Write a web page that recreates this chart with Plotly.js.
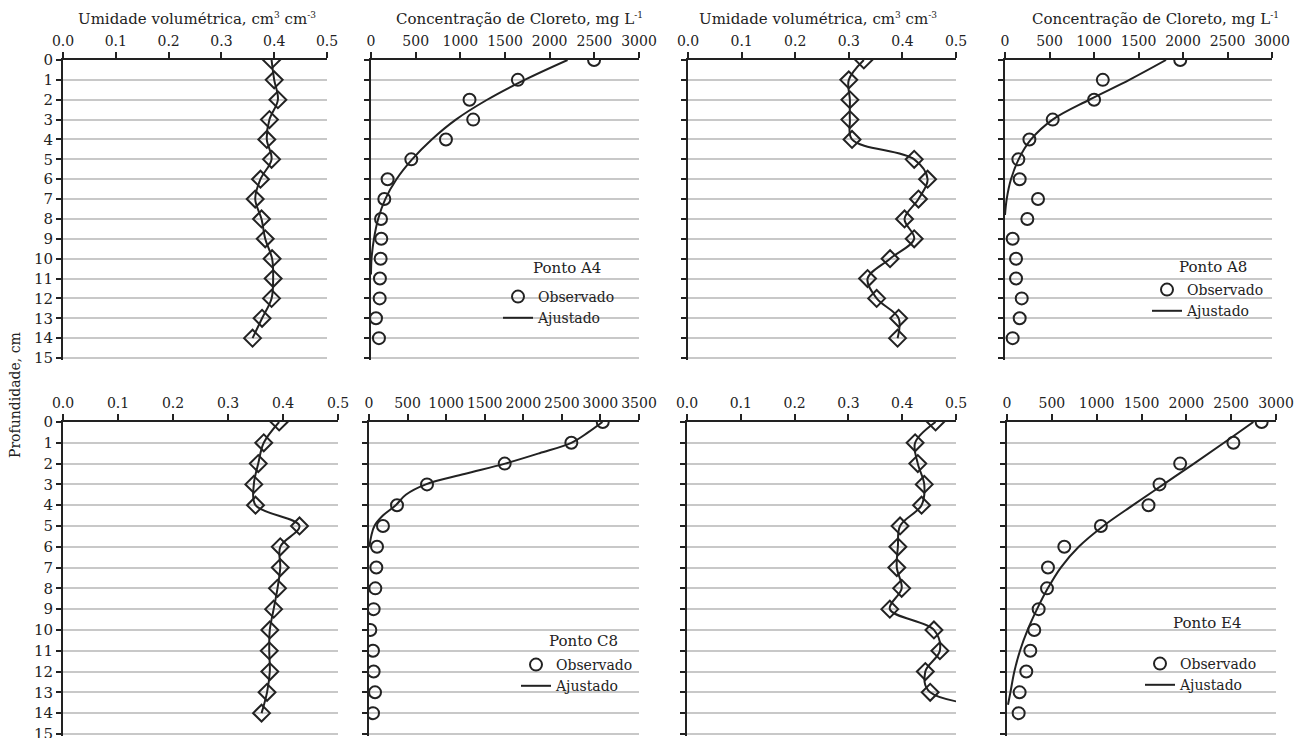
<!DOCTYPE html>
<html>
<head>
<meta charset="utf-8">
<script src="https://cdn.plot.ly/plotly-3.0.1.min.js"></script>
<style>html,body{margin:0;padding:0;background:#fff}#chart{width:1295px;height:738px}</style>
</head>
<body>
<div id="chart"></div>
<script>
// ---------- DATA ----------
const depth = [0,1,2,3,4,5,6,7,8,9,10,11,12,13,14];
const depthTicks = [0,1,2,3,4,5,6,7,8,9,10,11,12,13,14,15];

// Umidade volumétrica (cm3 cm-3)
const umidA4 = [0.395,0.400,0.407,0.391,0.386,0.395,0.374,0.364,0.376,0.383,0.396,0.398,0.395,0.377,0.359];
const umidA8 = [0.328,0.300,0.302,0.302,0.306,0.422,0.447,0.430,0.404,0.422,0.377,0.335,0.352,0.393,0.391];
const umidC8 = [0.393,0.365,0.355,0.347,0.350,0.430,0.395,0.395,0.390,0.383,0.376,0.375,0.376,0.371,0.361];
const umidE4 = [0.462,0.424,0.429,0.441,0.436,0.396,0.392,0.390,0.399,0.377,0.459,0.470,0.443,0.452,1.2];

// Concentração de Cloreto observada (mg L-1)
const clA4 = [2497,1644,1103,1144,839,451,186,149,112,115,108,100,97,56,89];
const clA8 = [1969,1099,1001,536,274,150,165,371,251,86,124,124,188,165,86];
const clC8 = [3030,2623,1759,752,363,181,104,95,82,60,17,52,60,78,52];
const clE4 = [2840,2525,1931,1701,1578,1047,639,457,446,353,304,260,215,141,130];

// Curvas ajustadas (mg L-1)
const ajDepthA4 = [0,1,2,3,4,5,6,7,8,9,10,10.8];
const ajA4 = [2200,1720,1300,950,680,460,285,160,80,33,6,0];
const ajDepthA8 = [0,1,2,3,4,5,6,7,7.8];
const ajA8 = [1809,1397,947,535,292,153,67,19,0];
const ajDepthC8 = [0,0.5,1,1.5,2,2.5,3,3.5,4,4.5,5,5.5,6];
const ajC8 = [3026,2840,2623,2211,1765,1236,737,477,347,180,70,28,6];
const ajDepthE4 = [0,1,2,3,4,5,6,7,8,9,10,11,12,13,13.6];
const ajE4 = [2748,2420,2085,1745,1405,1075,800,600,455,335,230,145,82,38,11];

const pontos = ['Ponto A4','Ponto A8','Ponto C8','Ponto E4'];
const SUP = t => '<sup><span style="font-size:9px">' + t + '</span></sup>';
const tituloUmid = 'Umidade volumétrica, cm' + SUP('3') + ' cm' + SUP('-3');
const tituloCl = 'Concentração de Cloreto, mg L' + SUP('-1');
const tituloY = 'Profundidade, cm';

// ---------- STYLE ----------
const W = 1295, H = 738;
const FONT = 'DejaVu Serif, Liberation Serif, serif';
const INK = '#222';
const px = v => v / W;
const py = v => 1 - v / H;

const traces = [];
function moist(vals, n) {
  const s = n === 1 ? '' : String(n);
  traces.push({
    x: vals, y: depth, xaxis: 'x' + s, yaxis: 'y' + s,
    mode: 'lines+markers', showlegend: false,
    line: {shape: 'spline', smoothing: 1, color: INK, width: 2},
    marker: {symbol: 'diamond-open', size: 13, color: INK, line: {width: 2, color: INK}}
  });
}
function chlor(obs, ajY, ajX, n, leg) {
  const xa = 'x' + n, ya = 'y' + n;
  traces.push({
    x: obs, y: depth, xaxis: xa, yaxis: ya, mode: 'markers', name: 'Observado', legend: leg,
    marker: {symbol: 'circle-open', size: 12, color: INK, line: {width: 2, color: INK}}
  });
  traces.push({
    x: ajX, y: ajY, xaxis: xa, yaxis: ya, mode: 'lines', name: 'Ajustado', legend: leg,
    line: {shape: 'spline', smoothing: 1, color: INK, width: 2}
  });
}
moist(umidA4, 1);
chlor(clA4, ajDepthA4, ajA4, 2, 'legend');
moist(umidA8, 3);
chlor(clA8, ajDepthA8, ajA8, 4, 'legend2');
moist(umidC8, 5);
chlor(clC8, ajDepthC8, ajC8, 6, 'legend3');
moist(umidE4, 7);
chlor(clE4, ajDepthE4, ajE4, 8, 'legend4');

// panel pixel boxes [left, right, top, bottom]
const boxes = [
  [63, 327, 60, 360], [371, 639, 60, 360], [688, 956, 60, 360], [1005, 1272, 60, 360],
  [63, 338, 422, 736], [369, 639, 422, 736], [687, 956, 422, 736], [1007, 1276, 422, 736]
];
const xranges = [[0,0.5],[0,3000],[0,0.5],[0,3000],[0,0.5],[0,3500],[0,0.5],[0,3000]];

const layout = {
  width: W, height: H, margin: {l:0, r:0, t:0, b:0},
  paper_bgcolor: '#fff', plot_bgcolor: 'rgba(0,0,0,0)',
  font: {family: FONT, size: 14, color: INK},
  annotations: []
};
boxes.forEach((b, i) => {
  const n = i + 1, s = n === 1 ? '' : String(n);
  const isMoist = (i % 2 === 0);
  layout['xaxis' + s] = {
    domain: [px(b[0]), px(b[1])], anchor: 'y' + s, side: 'top',
    range: xranges[i], dtick: isMoist ? 0.1 : 500, tick0: 0,
    tickformat: isMoist ? '.1f' : 'd',
    showline: true, linecolor: INK, linewidth: 2,
    ticks: 'outside', ticklen: 6, tickwidth: 2, tickcolor: INK,
    showgrid: false, zeroline: false, fixedrange: true,
    tickfont: {family: FONT, size: 14, color: INK}
  };
  layout['yaxis' + s] = {
    domain: [py(b[3]), py(b[2])], anchor: 'x' + s,
    range: [15.1, 0], tickmode: 'array', tickvals: depthTicks, ticktext: depthTicks.map(String),
    showline: true, linecolor: INK, linewidth: 2,
    ticks: 'outside', ticklen: 5, tickwidth: 2, tickcolor: INK,
    showgrid: true, gridcolor: '#c8c8c8', gridwidth: 2, zeroline: false, fixedrange: true,
    showticklabels: (i === 0 || i === 4), ticklabeloverflow: 'allow',
    tickfont: {family: FONT, size: 15, color: INK}
  };
});

// column titles (top row only)
const titleCenters = [197, 519, 818, 1155];
titleCenters.forEach((c, i) => {
  layout.annotations.push({
    text: i % 2 === 0 ? tituloUmid : tituloCl, xref: 'paper', yref: 'paper',
    x: px(c), y: py(19), xanchor: 'center', yanchor: 'middle', showarrow: false,
    font: {family: FONT, size: 15, color: INK}
  });
});
layout.annotations.push({
  text: tituloY, xref: 'paper', yref: 'paper', x: px(15), y: py(395),
  xanchor: 'center', yanchor: 'middle', textangle: -90, showarrow: false,
  font: {family: FONT, size: 14, color: INK}
});
// "Ponto" labels
const pontoPos = [[567, 268], [1213, 267], [583, 641], [1207, 623]];
pontoPos.forEach((p, i) => {
  layout.annotations.push({
    text: pontos[i], xref: 'paper', yref: 'paper', x: px(p[0]), y: py(p[1]),
    xanchor: 'center', yanchor: 'middle', showarrow: false,
    font: {family: FONT, size: 15, color: INK}
  });
});

const legPos = [[498, 281], [1147, 274], [516, 649], [1140, 648]];
['legend', 'legend2', 'legend3', 'legend4'].forEach((k, i) => {
  layout[k] = {
    x: px(legPos[i][0]), y: py(legPos[i][1]), xanchor: 'left', yanchor: 'top',
    bgcolor: 'rgba(0,0,0,0)', borderwidth: 0,
    font: {family: FONT, size: 14, color: INK},
    itemclick: false, itemdoubleclick: false
  };
});

Plotly.newPlot('chart', traces, layout, {staticPlot: true, displayModeBar: false});
</script>
</body>
</html>
